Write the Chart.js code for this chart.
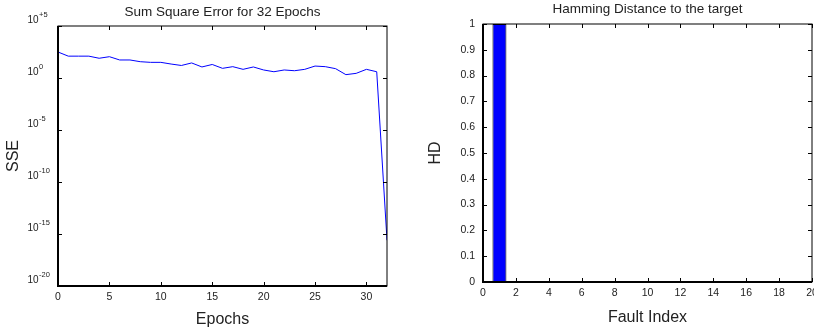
<!DOCTYPE html>
<html lang="en">
<head>
<meta charset="UTF-8">
<title>SSE and Hamming Distance</title>
<script src="https://cdn.jsdelivr.net/npm/chart.js"></script>
<style>
  html, body { margin: 0; padding: 0; background: #fff; overflow: hidden; }
  body { width: 814px; height: 331px; position: relative; }
  .box { position: absolute; top: 0; height: 331px; }
  #left { left: 0; width: 410px; }
  #right { left: 410px; width: 430px; }
</style>
</head>
<body>
<div class="box" id="left"><canvas id="sseChart" width="410" height="331"></canvas></div>
<div class="box" id="right"><canvas id="hdChart" width="430" height="331"></canvas></div>
<script>
// SSE per epoch
const epochs = [0, 1, 2, 3, 4, 5, 6, 7, 8, 9, 10, 11, 12, 13, 14, 15, 16,
  17, 18, 19, 20, 21, 22, 23, 24, 25, 26, 27, 28, 29, 30, 31, 32];
const sse = [316, 126, 126, 126, 79, 112, 54, 54, 37, 32, 32, 22, 16, 28, 11.5, 20, 8.5,
  12.3, 6.8, 11.5, 5.9, 4.0, 5.9, 5.0, 6.8, 14.1, 12.3, 7.9, 2.1, 2.8, 6.8, 4.0, 2.5e-16];
const sseTicks = [1e5, 1, 1e-5, 1e-10, 1e-15, 1e-20];
const sseTickExp = ['+5', '0', '-5', '-10', '-15', '-20'];

// Hamming distance per fault index
const faultIndex = [1, 2, 3, 4, 5, 6, 7, 8, 9, 10, 11, 12, 13, 14, 15, 16, 17, 18, 19];
const hd = [1, 0, 0, 0, 0, 0, 0, 0, 0, 0, 0, 0, 0, 0, 0, 0, 0, 0, 0];

const FONT = '"Liberation Sans", Arial, sans-serif';
Chart.defaults.font.family = FONT;
Chart.defaults.color = '#222';

// gnuplot style frame with inward tick marks
const framePlugin = {
  id: 'frame',
  afterDatasetsDraw(chart) {
    const {ctx, chartArea: a, scales: {x, y}} = chart;
    ctx.save();
    ctx.strokeStyle = '#000';
    ctx.lineWidth = 1;
    ctx.beginPath();
    x.ticks.forEach(t => {
      const px = Math.round(x.getPixelForValue(t.value)) + 0.5;
      ctx.moveTo(px, a.bottom); ctx.lineTo(px, a.bottom - 4);
      ctx.moveTo(px, a.top); ctx.lineTo(px, a.top + 4);
    });
    y.ticks.forEach(t => {
      const py = Math.round(y.getPixelForValue(t.value)) + 0.5;
      ctx.moveTo(a.left, py); ctx.lineTo(a.left + 4, py);
      ctx.moveTo(a.right, py); ctx.lineTo(a.right - 4, py);
    });
    ctx.stroke();
    ctx.strokeRect(a.left, a.top, a.width, a.height);
    ctx.lineWidth = 2;
    ctx.beginPath();
    ctx.moveTo(a.left, a.top); ctx.lineTo(a.left, a.bottom); ctx.lineTo(a.right, a.bottom);
    ctx.stroke();
    ctx.restore();
  }
};

// 10^n labels with a raised exponent for the log axis
const powerLabels = {
  id: 'powerLabels',
  afterDraw(chart) {
    const {ctx, scales: {y}} = chart;
    ctx.save();
    ctx.fillStyle = '#222';
    ctx.textBaseline = 'alphabetic';
    y.ticks.forEach((t, i) => {
      const py = y.getPixelForValue(t.value);
      ctx.font = '10px ' + FONT;
      ctx.textAlign = 'right';
      ctx.fillText('10', 38.5, py - 3);
      ctx.font = '7.5px ' + FONT;
      ctx.textAlign = 'left';
      ctx.fillText(sseTickExp[i], 39, py - 9);
    });
    ctx.restore();
  }
};

new Chart(document.getElementById('sseChart'), {
  type: 'line',
  data: {
    datasets: [{
      data: epochs.map((e, i) => ({x: e, y: sse[i]})),
      borderColor: '#0000ff',
      borderWidth: 1,
      pointRadius: 0,
      tension: 0
    }]
  },
  options: {
    responsive: false,
    animation: false,
    layout: {padding: {left: 4, right: 23, top: 0, bottom: 1.4}},
    plugins: {
      legend: {display: false},
      tooltip: {enabled: false},
      title: {
        display: true,
        text: 'Sum Square Error for 32 Epochs',
        fullSize: false,
        font: {size: 13.5, weight: 'normal'},
        padding: {top: 3.9, bottom: 5.9}
      }
    },
    scales: {
      x: {
        type: 'linear', min: 0, max: 32,
        grid: {display: false, drawTicks: false},
        border: {display: false},
        ticks: {stepSize: 5, includeBounds: false, padding: 5, font: {size: 10.5}, maxRotation: 0},
        title: {display: true, text: 'Epochs', font: {size: 16}, padding: 0},
        afterFit: s => { s.height = 43.6; }
      },
      y: {
        type: 'logarithmic', min: 1e-20, max: 1e5,
        grid: {display: false, drawTicks: false},
        border: {display: false},
        afterBuildTicks: s => { s.ticks = sseTicks.map(v => ({value: v})); },
        ticks: {display: false},
        title: {display: true, text: 'SSE', font: {size: 16}, padding: 0},
        afterFit: s => { s.width = 54; }
      }
    }
  },
  plugins: [framePlugin, powerLabels]
});

new Chart(document.getElementById('hdChart'), {
  type: 'bar',
  data: {
    datasets: [{
      data: faultIndex.map((f, i) => ({x: f, y: hd[i]})),
      backgroundColor: '#0000ff',
      borderColor: '#000',
      borderWidth: 1,
      borderSkipped: false,
      barPercentage: 1,
      categoryPercentage: 0.85
    }]
  },
  options: {
    responsive: false,
    animation: false,
    layout: {padding: {left: 16, right: 28, top: 0, bottom: 3.4}},
    plugins: {
      legend: {display: false},
      tooltip: {enabled: false},
      title: {
        display: true,
        text: 'Hamming Distance to the target',
        fullSize: false,
        font: {size: 13.5, weight: 'normal'},
        padding: {top: 0.9, bottom: 6.9}
      }
    },
    scales: {
      x: {
        type: 'linear', min: 0, max: 20, offset: false,
        grid: {display: false, drawTicks: false, offset: false},
        border: {display: false},
        ticks: {stepSize: 2, includeBounds: false, padding: 5, font: {size: 10.5}, maxRotation: 0},
        title: {display: true, text: 'Fault Index', font: {size: 16}, padding: 0},
        afterFit: s => { s.height = 45.6; }
      },
      y: {
        min: 0, max: 1,
        grid: {display: false, drawTicks: false},
        border: {display: false},
        ticks: {stepSize: 0.1, padding: 8, font: {size: 10.5}, callback: v => String(+v.toFixed(1))},
        title: {display: true, text: 'HD', font: {size: 16}, padding: 0},
        afterFit: s => { s.width = 57; }
      }
    }
  },
  plugins: [framePlugin]
});
</script>
</body>
</html>
